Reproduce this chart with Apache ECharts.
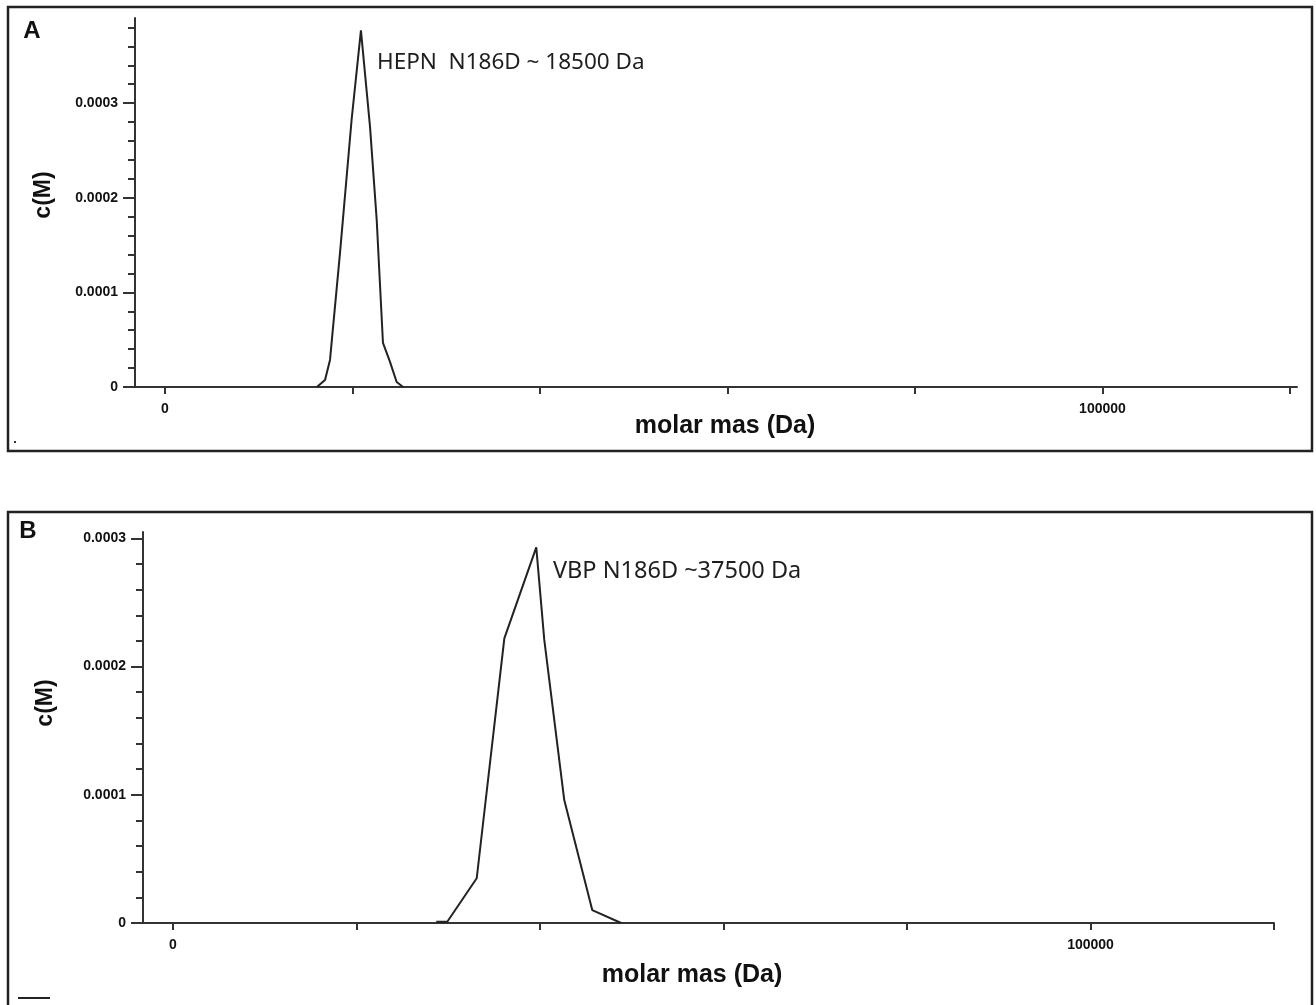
<!DOCTYPE html>
<html>
<head>
<meta charset="utf-8">
<script src="https://cdn.jsdelivr.net/npm/echarts@6/dist/echarts.min.js"></script>
<style>
html,body{margin:0;padding:0;background:#fff;}
#chart{width:1316px;height:1005px;}
</style>
</head>
<body>
<div id="chart"></div>
<script>
// ---- Data ----
// Panel A: HEPN N186D
const massA = [16200, 17070, 17600, 18670, 19910, 20900, 21870, 22580, 23250, 24000, 24710, 25400];
const cA    = [0, 0.0000074, 0.0000286, 0.000142, 0.000283, 0.000377, 0.000275, 0.000177, 0.0000466, 0.0000265, 0.0000053, 0];
// Panel B: VBP N186D
const massB = [28700, 29900, 33110, 36120, 39600, 40470, 42650, 45700, 48850];
const cB    = [0.000001, 0.000001, 0.0000349, 0.000222, 0.000293, 0.000221, 0.0000959, 0.0000101, 0];

const xTickValues = [0, 20000, 40000, 60000, 80000, 100000, 120000];
const xLabelValues = [0, 100000];
const xTickLabels = ['0', '100000'];
const yMajorValues = [0, 0.0001, 0.0002, 0.0003];
const yTickLabels = ['0', '0.0001', '0.0002', '0.0003'];
const yMinorStep = 0.00002;

const annotationA = 'HEPN  N186D ~ 18500 Da';
const annotationB = 'VBP N186D ~37500 Da';
const yName = 'c(M)';
const xName = 'molar mas (Da)';

function minorValues(maxV) {
  const out = [];
  for (let i = 0; i * yMinorStep <= maxV + 1e-12; i++) out.push(+(i * yMinorStep).toFixed(6));
  return out;
}
function pairs(xs, ys) { return xs.map((x, i) => [x, ys[i]]); }

const lab = { fontFamily: 'Liberation Sans, Arial, sans-serif', fontWeight: 'bold', fontSize: 14, color: '#111' };
const axisLineStyle = { color: '#333', width: 2 };

function xAxisFor(grid, min, max) {
  return {
    type: 'value', gridIndex: grid, min: min, max: max, position: 'bottom',
    axisLine: { show: true, onZero: false, lineStyle: axisLineStyle },
    axisTick: { show: true, customValues: xTickValues, length: 7, lineStyle: { color: '#333', width: 2 } },
    axisLabel: Object.assign({ customValues: xLabelValues, margin: 15,
      formatter: v => xTickLabels[xLabelValues.indexOf(v)] }, lab),
    splitLine: { show: false }
  };
}
function yMainFor(grid, max) {
  return {
    type: 'value', gridIndex: grid, min: 0, max: max, position: 'left',
    axisLine: { show: true, onZero: false, lineStyle: axisLineStyle },
    axisTick: { show: true, customValues: yMajorValues, length: 12, lineStyle: { color: '#333', width: 2 } },
    axisLabel: Object.assign({ customValues: yMajorValues, margin: 17,
      formatter: v => yTickLabels[Math.round(v / 0.0001)] }, lab),
    splitLine: { show: false }
  };
}
function yMinorFor(grid, max, top) {
  return {
    type: 'value', gridIndex: grid, min: 0, max: max, position: 'left', offset: 0,
    axisLine: { show: false, onZero: false },
    axisTick: { show: true, customValues: minorValues(top), length: 7, lineStyle: { color: '#333', width: 2 } },
    axisLabel: { show: false },
    splitLine: { show: false }
  };
}

const chart = echarts.init(document.getElementById('chart'), null, { renderer: 'canvas' });

chart.setOption({
  animation: false,
  backgroundColor: '#fff',
  grid: [
    { left: 135, right: 19, top: 18, bottom: 618 },
    { left: 143, right: 42, top: 532, bottom: 82 }
  ],
  xAxis: [ xAxisFor(0, -3200, 120750), xAxisFor(1, -3260, 120000) ],
  yAxis: [
    yMainFor(0, 0.00039), yMinorFor(0, 0.00039, 0.00038),
    yMainFor(1, 0.000305), yMinorFor(1, 0.000305, 0.0003)
  ],
  series: [
    { type: 'line', xAxisIndex: 0, yAxisIndex: 0, data: pairs(massA, cA), showSymbol: false,
      lineStyle: { color: '#222', width: 2 }, z: 3 },
    { type: 'line', xAxisIndex: 1, yAxisIndex: 2, data: pairs(massB, cB), showSymbol: false,
      lineStyle: { color: '#222', width: 2 }, z: 3 }
  ],
  graphic: [
    { type: 'rect', shape: { x: 8, y: 7, width: 1304, height: 444 }, style: { fill: 'none', stroke: '#222', lineWidth: 2.5 } },
    { type: 'rect', shape: { x: 8, y: 512, width: 1304, height: 520 }, style: { fill: 'none', stroke: '#222', lineWidth: 2.5 } },
    { type: 'rect', shape: { x: 14, y: 441, width: 2, height: 2 }, style: { fill: '#333' } },
    { type: 'rect', shape: { x: 18, y: 997, width: 32, height: 2 }, style: { fill: '#222' } },
    { type: 'text', x: 32, y: 31, style: { text: 'A', font: 'bold 24px Liberation Sans, Arial, sans-serif', align: 'center', verticalAlign: 'middle', fill: '#111' } },
    { type: 'text', x: 28, y: 531, style: { text: 'B', font: 'bold 24px Liberation Sans, Arial, sans-serif', align: 'center', verticalAlign: 'middle', fill: '#111' } },
    { type: 'text', x: 44, y: 195, rotation: Math.PI / 2, style: { text: yName, font: 'bold 23px Liberation Sans, Arial, sans-serif', align: 'center', verticalAlign: 'middle', fill: '#111' } },
    { type: 'text', x: 46, y: 703, rotation: Math.PI / 2, style: { text: yName, font: 'bold 23px Liberation Sans, Arial, sans-serif', align: 'center', verticalAlign: 'middle', fill: '#111' } },
    { type: 'text', x: 725, y: 426, style: { text: xName, font: 'bold 25px Liberation Sans, Arial, sans-serif', align: 'center', verticalAlign: 'middle', fill: '#111' } },
    { type: 'text', x: 692, y: 975, style: { text: xName, font: 'bold 25px Liberation Sans, Arial, sans-serif', align: 'center', verticalAlign: 'middle', fill: '#111' } },
    { type: 'text', x: 377, y: 63, style: { text: annotationA, font: '22.5px Noto Sans, sans-serif', align: 'left', verticalAlign: 'middle', fill: '#1e1e1e' } },
    { type: 'text', x: 553, y: 571, style: { text: annotationB, font: '23.5px Noto Sans, sans-serif', align: 'left', verticalAlign: 'middle', fill: '#1e1e1e' } }
  ]
});
</script>
</body>
</html>
